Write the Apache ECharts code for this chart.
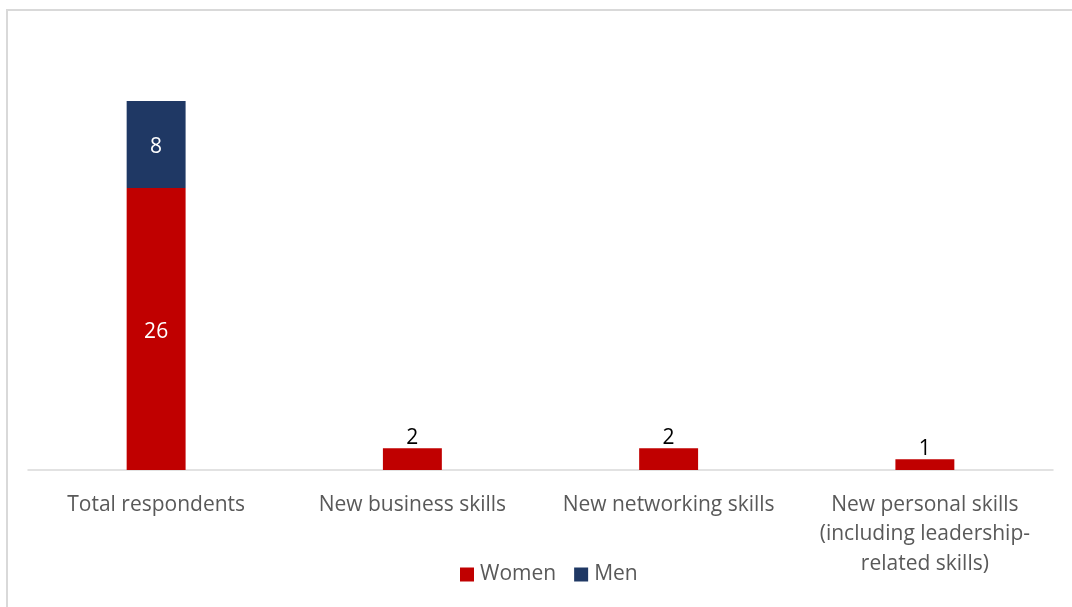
<!DOCTYPE html>
<html>
<head>
<meta charset="utf-8">
<script src="https://cdn.jsdelivr.net/npm/echarts@6/dist/echarts.min.js"></script>
<style>
  html, body { margin: 0; padding: 0; background: #ffffff; }
  #chart { width: 1072px; height: 607px; }
</style>
</head>
<body>
<div id="chart"></div>
<script>
// Skill gains reported by respondents, split by gender
const categories = [
  'Total respondents',
  'New business skills',
  'New networking skills',
  'New personal skills\n(including leadership-\nrelated skills)'
];
const women = [26, 2, 2, 1];
const men = [8, 0, 0, 0];

const FONT = '"Open Sans", Lato, sans-serif';
const SIZE = 21;

// Large segments carry white labels inside; small ones get dark labels above
function buildData(values) {
  return values.map(function (v, i) {
    if (!v) return null;
    const total = women[i] + men[i];
    const big = total > 5;
    return {
      value: v,
      label: big
        ? { show: true, position: 'inside', color: '#ffffff', offset: [0, 3] }
        : { show: true, position: 'top', color: '#000000', distance: 0 }
    };
  });
}

const chart = echarts.init(document.getElementById('chart'));
chart.setOption({
  backgroundColor: '#ffffff',
  animation: false,
  textStyle: { fontFamily: FONT },
  graphic: [{
    type: 'rect',
    shape: { x: 7, y: 10, width: 1070, height: 600 },
    style: { fill: 'none', stroke: '#d9d9d9', lineWidth: 2 },
    silent: true
  }],
  grid: { left: 28, right: 19, top: 36, bottom: 137 },
  legend: {
    bottom: 17,
    left: 455,
    itemWidth: 14,
    itemHeight: 14,
    itemGap: 18,
    icon: 'rect',
    textStyle: { fontFamily: FONT, fontSize: SIZE, color: '#595959', padding: [0, 0, 0, 1] },
    data: ['Women', 'Men']
  },
  xAxis: {
    type: 'category',
    data: categories,
    axisLine: { lineStyle: { color: '#d9d9d9', width: 1.5 } },
    axisTick: { show: false },
    axisLabel: {
      fontFamily: FONT,
      fontSize: SIZE,
      color: '#595959',
      margin: 20,
      lineHeight: 29.5,
      interval: 0
    }
  },
  yAxis: {
    type: 'value',
    min: 0,
    max: 40,
    show: false,
    splitLine: { show: false }
  },
  series: [
    {
      name: 'Women',
      type: 'bar',
      stack: 'total',
      barWidth: '23%',
      itemStyle: { color: '#c00000' },
      label: { fontFamily: FONT, fontSize: SIZE },
      data: buildData(women)
    },
    {
      name: 'Men',
      type: 'bar',
      stack: 'total',
      barWidth: '23%',
      itemStyle: { color: '#1f3864' },
      label: { fontFamily: FONT, fontSize: SIZE },
      data: buildData(men)
    }
  ]
});
</script>
</body>
</html>
